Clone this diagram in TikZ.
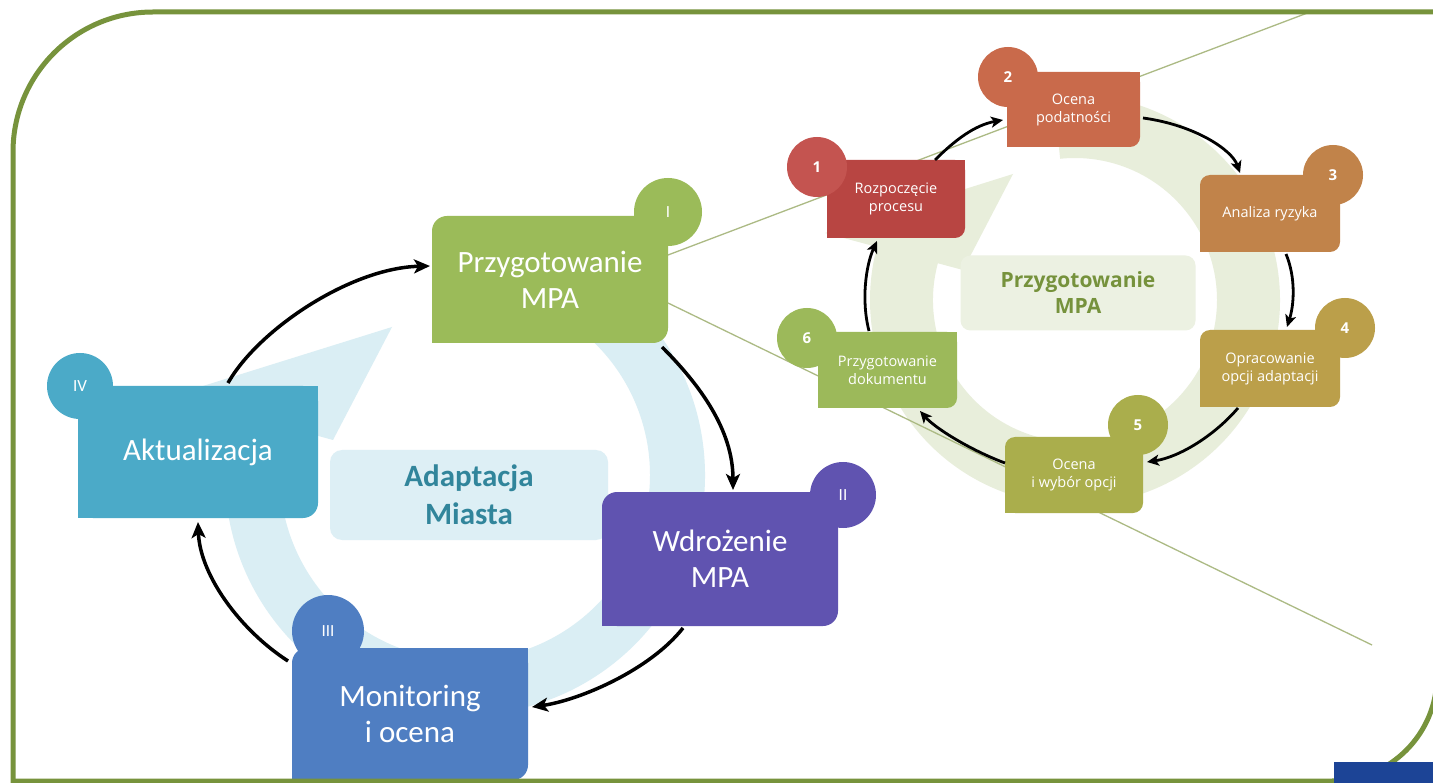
\documentclass[tikz,border=0pt]{standalone}
\usepackage{fontspec}
\setmainfont{Carlito}
\newfontfamily\osans{Open Sans}
\usetikzlibrary{arrows.meta}
\definecolor{cBorder}{RGB}{119,147,60}
\definecolor{cBlue}{RGB}{28,68,150}
\definecolor{cPrz}{RGB}{155,187,89}
\definecolor{cWdr}{RGB}{96,83,176}
\definecolor{cMon}{RGB}{79,126,194}
\definecolor{cAkt}{RGB}{75,170,200}
\definecolor{cRingL}{RGB}{218,238,244}
\definecolor{cAdRect}{RGB}{221,239,245}
\definecolor{cAdTxt}{RGB}{49,133,155}
\definecolor{cRingR}{RGB}{232,238,219}
\definecolor{cLabR}{RGB}{236,241,226}
\definecolor{cLabTxt}{RGB}{118,146,60}
\definecolor{cbA}{RGB}{184,69,66}
\definecolor{ccA}{RGB}{196,84,80}
\definecolor{cbB}{RGB}{201,106,75}
\definecolor{cbC}{RGB}{193,131,74}
\definecolor{cbD}{RGB}{187,159,74}
\definecolor{cbE}{RGB}{170,174,76}
\definecolor{cbF}{RGB}{156,185,90}
\definecolor{cZoom}{RGB}{172,186,132}
\newcommand\dbox[9]{%
  \node[#8, fill=#6, rounded corners=#7pt, minimum width=#4pt, minimum height=#5pt] (#1) at (#2,#3) {#9};
  \fill[#6] (#1.north east) rectangle ++(-#7-3,#7+3);
  \fill[#6] (#1.south west) rectangle ++(#7+3,-#7-3);
}
\begin{document}
\begin{tikzpicture}[x=1pt,y=-1pt,
  bigtxt/.style={rectangle, inner sep=0pt, outer sep=0pt, text=white, align=center, font=\fontsize{31}{36}\selectfont},
  smtxt/.style={rectangle, inner sep=0pt, outer sep=0pt, text=white, align=center, font=\osans\fontsize{14.5}{18}\selectfont},
  badgeL/.style={circle, inner sep=0pt, outer sep=0pt, minimum size=68pt, text=white, font=\fontsize{17}{20}\selectfont},
  badgeR/.style={circle, inner sep=0pt, outer sep=0pt, minimum size=60pt, text=white, font=\osans\bfseries\fontsize{15}{17}\selectfont},
  bigarr/.style={line width=3.5pt, -{Stealth[length=16pt,width=14pt,inset=4pt]}},
  smarr/.style={line width=2.8pt, -{Stealth[length=12pt,width=11pt,inset=3pt]}},
  zoomline/.style={cZoom, line width=1.3pt}]
\useasboundingbox (0,0) rectangle (1433,783);
\fill[white] (0,0) rectangle (1433,783);

% big circular arrows
\fill[cRingL, shift={(465,475)}] (264:240) arc[start angle=264, end angle=555, radius=240]
  -- (-294,-79) -- (-73,-148) -- (-132,-35) -- (555:185)
  arc[start angle=555, end angle=264, radius=185] -- cycle;
\fill[cRingR, shift={(1075,300)}] (264:205) arc[start angle=264, end angle=555, radius=205]
  -- (-250,-67) -- (-62,-126) -- (-112,-30) -- (555:142)
  arc[start angle=555, end angle=264, radius=142] -- cycle;

% label panels
\node[rectangle, rounded corners=12pt, fill=cAdRect, minimum width=278pt, minimum height=90pt,
  text=cAdTxt, align=center, font=\bfseries\fontsize{31}{38}\selectfont] (adapt) at (469,495) {Adaptacja\\Miasta};
\node[rectangle, rounded corners=10pt, fill=cLabR, minimum width=235pt, minimum height=75pt,
  text=cLabTxt, align=center, font=\osans\bfseries\fontsize{21}{26}\selectfont] (lab) at (1078,293) {Przygotowanie\\MPA};

% main box I (before zoom lines)
\dbox{prz}{550}{279.5}{236}{127}{cPrz}{15}{bigtxt}{Przygotowanie\\MPA}

% zoom lines
\coordinate (ztop) at (1310,12);
\coordinate (zbot) at (1372,645);
\draw[zoomline] ([yshift=24.5pt]prz.east) -- (ztop);
\draw[zoomline] ([yshift=-23.5pt]prz.east) -- (zbot);

\dbox{wdr}{720}{559}{236}{134}{cWdr}{15}{bigtxt}{Wdrożenie\\MPA}
\dbox{mon}{410}{714}{236}{132}{cMon}{15}{bigtxt}{Monitoring\\i ocena}
\dbox{akt}{198}{452}{240}{132}{cAkt}{15}{bigtxt}{Aktualizacja}

\dbox{bA}{896}{199}{138}{78}{cbA}{10}{smtxt}{Rozpoczęcie\\procesu}
\dbox{bB}{1073.5}{109.5}{133}{75}{cbB}{10}{smtxt}{Ocena\\podatności}
\dbox{bC}{1270}{213.5}{140}{77}{cbC}{10}{smtxt}{Analiza ryzyka}
\dbox{bD}{1270}{368.5}{140}{77}{cbD}{10}{smtxt}{Opracowanie\\opcji adaptacji}
\dbox{bE}{1074}{475}{138}{76}{cbE}{10}{smtxt}{Ocena\\i wybór opcji}
\dbox{bF}{887.5}{370}{139}{76}{cbF}{10}{smtxt}{Przygotowanie\\dokumentu}

% badges
\node[badgeL, fill=cPrz] (nI) at (668,212) {I};
\node[badgeL, fill=cWdr, minimum size=66pt] (nII) at (843,495) {II};
\node[badgeL, fill=cMon, minimum size=72pt] (nIII) at (328,631) {III};
\node[badgeL, fill=cAkt, minimum size=66pt] (nIV) at (80,386) {IV};
\node[badgeR, fill=ccA] (n1) at (817,167) {1};
\node[badgeR, fill=cbB] (n2) at (1008,77) {2};
\node[badgeR, fill=cbC] (n3) at (1333,175) {3};
\node[badgeR, fill=cbD] (n4) at (1345,328) {4};
\node[badgeR, fill=cbE] (n5) at (1138,425) {5};
\node[badgeR, fill=cbF] (n6) at (807,338) {6};

% left cycle arrows
\draw[bigarr] ([xshift=30pt,yshift=3pt]akt.north) .. controls +(30,-53) and +(-80,2) .. ([xshift=-2pt,yshift=13.5pt]prz.west);
\draw[bigarr] ([xshift=-6pt,yshift=-4pt]prz.south east) .. controls +(38,38) and +(0,-60) .. ([xshift=13pt,yshift=2pt]wdr.north);
\draw[bigarr] ([xshift=-37pt,yshift=-2pt]wdr.south) .. controls +(-33,42) and +(48,-7) .. ([xshift=4pt,yshift=7pt]mon.east);
\draw[bigarr] ([xshift=-4pt,yshift=-13pt]mon.north west) .. controls +(-48,-31) and +(2,53) .. ([yshift=-4pt]akt.south);

% right cycle arrows
\draw[smarr] ([xshift=39pt]bA.north) .. controls +(20,-20) and +(-28,5) .. ([xshift=-4pt,yshift=-10.5pt]bB.west);
\draw[smarr] ([xshift=3pt,yshift=-8.5pt]bB.east) .. controls +(52,7) and +(-8,-23) .. ([xshift=-30pt,yshift=2pt]bC.north);
\draw[smarr] ([xshift=16pt,yshift=-2pt]bC.south) .. controls +(10,24) and +(7,-22) .. ([xshift=17pt,yshift=3pt]bD.north);
\draw[smarr] ([xshift=-32pt,yshift=-1pt]bD.south) .. controls +(-23,27) and +(33,-5) .. ([xshift=4pt,yshift=13pt]bE.east);
\draw[smarr] ([yshift=12pt]bE.west) .. controls +(-35,-13) and +(15,17) .. ([xshift=32.5pt,yshift=-3pt]bF.south);
\draw[smarr] ([xshift=-18.5pt,yshift=1pt]bF.north) .. controls +(-8,-31) and +(-11,24) .. ([xshift=-19pt,yshift=-3pt]bA.south);

% frame
\draw[cBorder, line width=5pt] (13,800) -- (13,152) arc[start angle=180, end angle=270, radius=140] -- (1450,12);
\draw[cBorder, line width=5pt] (1437,-20) -- (1437,676) arc[start angle=0, end angle=90, radius=105] -- (13,781);
\fill[cBlue] (1334,762) rectangle (1433,783);
\end{tikzpicture}
\end{document}
